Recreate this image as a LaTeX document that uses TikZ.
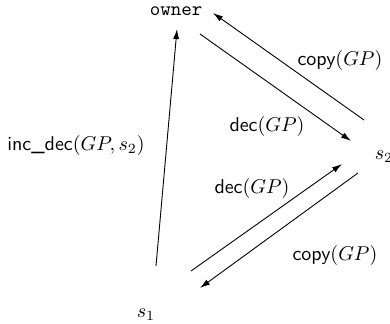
\documentclass[tikz,border=0pt]{standalone}
\usetikzlibrary{arrows.meta}
\begin{document}
\begin{tikzpicture}[x=0.5pt,y=-0.5pt,
  conn/.style={line width=0.45pt,-{Latex[length=5pt,width=3pt]}},
  lbl/.style={inner sep=0pt}]
\useasboundingbox (0,0) rectangle (390,324);
% nodes
\node[lbl] (owner) at (176,11) {\texttt{owner}};
\node[lbl] (s1) at (146,315) {$s_1$};
\node[lbl] (s2) at (384,157) {$s_2$};
% endpoints
\coordinate (a1) at (156,266); \coordinate (a2) at (177,29);
\coordinate (b1) at (200,34);  \coordinate (b2) at (351,141);
\coordinate (c1) at (364,120); \coordinate (c2) at (213,13);
\coordinate (d1) at (191,271); \coordinate (d2) at (342,164);
\coordinate (e1) at (358,173); \coordinate (e2) at (200,288);
% connectors
\draw[conn] (a1) -- (a2);
\draw[conn] (b1) -- (b2);
\draw[conn] (c1) -- (c2);
\draw[conn] (d1) -- (d2);
\draw[conn] (e1) -- (e2);
% labels
\node[lbl] (l1) at (76,146) {\textsf{inc\_dec}$(GP,s_2)$};
\node[lbl] (l2) at (340,61) {\textsf{copy}$(GP)$};
\node[lbl] (l3) at (267,127) {\textsf{dec}$(GP)$};
\node[lbl] (l4) at (252,189) {\textsf{dec}$(GP)$};
\node[lbl] (l5) at (335,256) {\textsf{copy}$(GP)$};
\end{tikzpicture}
\end{document}
